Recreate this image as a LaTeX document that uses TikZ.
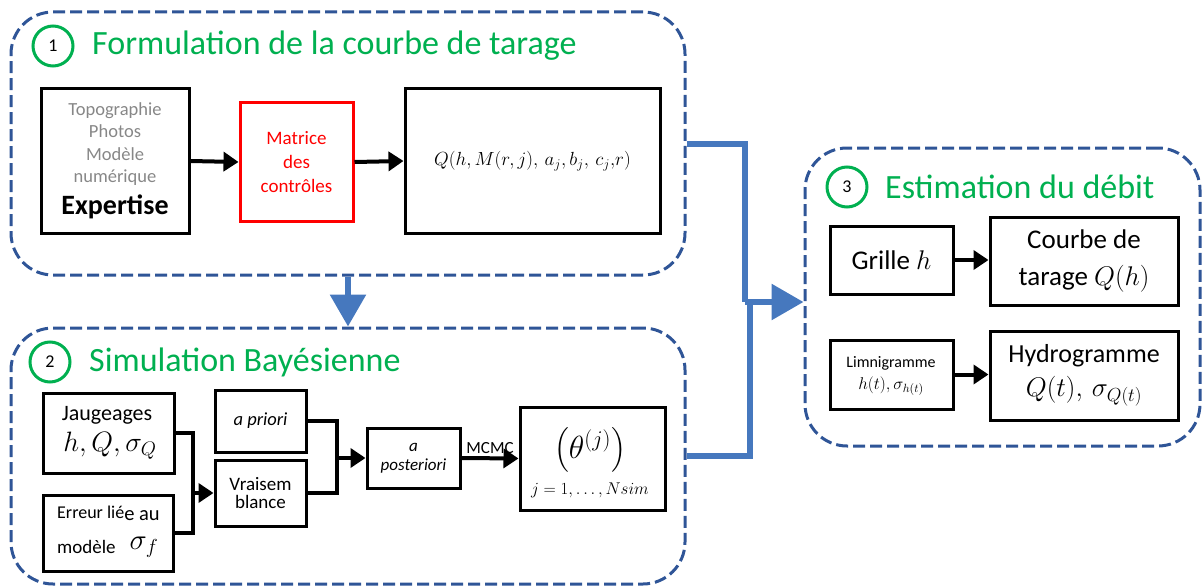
\RequirePackage{fix-cm}
\documentclass[tikz,border=0pt]{standalone}
\usepackage{exscale}
\usepackage{fontspec}
\setmainfont{Carlito}
\usetikzlibrary{arrows.meta,calc}
\definecolor{stageblue}{RGB}{47,85,151}
\definecolor{flowblue}{RGB}{70,120,190}
\definecolor{titlegreen}{RGB}{0,176,80}
\definecolor{notegray}{RGB}{135,135,135}
\newcommand{\fsz}[2]{\fontsize{#1}{#2}\selectfont}
\begin{document}
\begin{tikzpicture}[x=1pt,y=-1pt,
  stage/.style={draw=stageblue, line width=3pt, dash pattern=on 12pt off 5pt,
    rounded corners=42pt, inner sep=0pt},
  blk/.style={draw=black, line width=3pt, inner sep=0pt, align=center},
  badge/.style={circle, draw=titlegreen, line width=3pt, minimum size=40pt,
    inner sep=0pt, font=\fsz{18}{20}},
  stagetitle/.style={anchor=west, inner sep=0pt, text=titlegreen, font=\fsz{34}{36}},
  txt/.style={inner sep=0pt, align=center},
  wire/.style={line width=4pt},
  arr/.style={line width=4pt, -{Triangle[length=15pt,width=19pt]}},
  flow/.style={draw=flowblue, line width=6pt},
  flowarr/.style={flow, -{Triangle[length=32pt,width=35pt]}},
]
\useasboundingbox (0,0) rectangle (1203,586);

% the three stages
\node[stage, minimum width=674pt, minimum height=263pt] (s1) at (348,143.5) {};
\node[stage, minimum width=674pt, minimum height=256pt] (s2) at (348,456) {};
\node[stage, minimum width=395pt, minimum height=298pt] (s3) at (1002.5,297) {};

% stage headings
\node[badge] (b1) at (53,46) {1};
\node[stagetitle] (t1) at (92,46) {Formulation de la courbe de tarage};
\node[badge] (b2) at (50,362) {2};
\node[stagetitle] (t2) at (89,362) {Simulation Bayésienne};
\node[badge] (b3) at (847,187) {3};
\node[stagetitle] (t3) at (885,187) {Estimation du débit};

% ---- stage 1
\node[blk, minimum width=148pt, minimum height=144pt] (src) at (115,161) {};
\node[txt, text=notegray, font=\fsz{18.5}{22.3}] (srctxt) at (115,144)
  {Topographie\\Photos\\Modèle\\numérique};
\node[txt, font=\fsz{28}{30}\bfseries] (expert) at (115,207) {Expertise};
\node[blk, draw=red, text=red, minimum width=113pt, minimum height=118pt,
  font=\fsz{19}{24}] (ctrl) at (296.5,162) {Matrice\\des\\contrôles};
\node[blk, minimum width=255pt, minimum height=144pt, font=\fsz{19}{20}] (model)
  at (532.5,161) {$Q(h,M(r,j),\,a_j,b_j,\,c_j{,}r)$};
\draw[arr] (src.east) -- (ctrl.west);
\draw[arr] (ctrl.east) -- (model.west);

% ---- stage 2
\node[blk, minimum width=131pt, minimum height=80pt] (jaug) at (108.5,433) {};
\node[txt, font=\fsz{22}{24}] (jaugtxt) at (107,415) {Jaugeages};
\node[txt, font=\fsz{28}{30}] (jaugmath) at (110,446) {$h,Q,\sigma_Q$};
\node[blk, minimum width=130pt, minimum height=76pt] (err) at (108,533) {};
\node[txt, anchor=west, font=\fsz{18}{20}] (errtxt) at (57,513)
  {Erreur lié\raisebox{-2pt}{\fsz{20.5}{22}e au}};
\node[txt, anchor=west, font=\fsz{19}{20}] (modtxt) at (57,547) {modèle};
\node[txt, font=\fsz{29}{30}] (sigf) at (144,547) {$\sigma_f$};

\node[blk, minimum width=91pt, minimum height=62pt, font=\fsz{18.5}{20}\itshape]
  (prior) at (260.5,421) {a priori};
\node[blk, minimum width=91pt, minimum height=66pt, font=\fsz{19}{18}]
  (vrai) at (260.5,493) {Vraisem\\blance};
\node[blk, minimum width=93pt, minimum height=60pt, font=\fsz{17}{19}\itshape]
  (post) at (413.5,458) {a\\posteriori};
\node[blk, minimum width=145pt, minimum height=103pt] (theta) at (592.5,458.5) {};
\node[txt, font=\fsz{32}{34}] (thetamath) at (590,450) {$\left(\theta^{(j)}\right)$};
\node[txt, font=\fsz{17}{19}] (thetaidx) at (590,490) {$j=1,\ldots,Nsim$};

\coordinate (m1) at (193,493);
\coordinate (m2) at (337,458);
\draw[wire] (jaug.east) -| (m1) |- (err.east);
\draw[arr] (m1) -- (vrai.west);
\draw[wire] (prior.east) -| (m2) |- (vrai.east);
\draw[arr] (m2) -- (post.west);
\draw[arr] (post.east) -- node[above=3pt, inner sep=0pt, font=\fsz{17}{19}] (mcmc) {MCMC} (theta.west);

% ---- stage 3
\node[blk, minimum width=123pt, minimum height=68pt, font=\fsz{27}{30}]
  (grid) at (891.5,260) {Grille $h$};
\node[blk, minimum width=188pt, minimum height=88pt, font=\fsz{27}{37}]
  (curve) at (1084,261) {Courbe de\\tarage $Q(h)$};
\node[blk, minimum width=123pt, minimum height=69pt] (limni) at (891.5,374.5) {};
\node[txt, font=\fsz{16}{22}] (limnitxt) at (891,376)
  {Limnigramme\\{\fsz{17}{22}$h(t),\sigma_{h(t)}$}};
\node[blk, minimum width=188pt, minimum height=89pt, font=\fsz{26}{34}]
  (hydro) at (1084,375.5) {Hydrogramme\\{\fsz{27}{34}$Q(t),\,\sigma_{Q(t)}$}};
\draw[arr] (grid.east) -- (grid.east -| curve.west);
\draw[arr] (limni.east) -- (limni.east -| hydro.west);

% ---- flow between stages
\coordinate (join) at (745,302);
\coordinate (join2) at (750,302);
\draw[flowarr] (s1.south) -- (s2.north);
\draw[flow, line join=miter] (s1.east) -| (join);
\draw[flow, line join=miter] (s2.east) -| (join2);
\draw[flowarr] (join) -- (join -| s3.west);
\end{tikzpicture}
\end{document}
